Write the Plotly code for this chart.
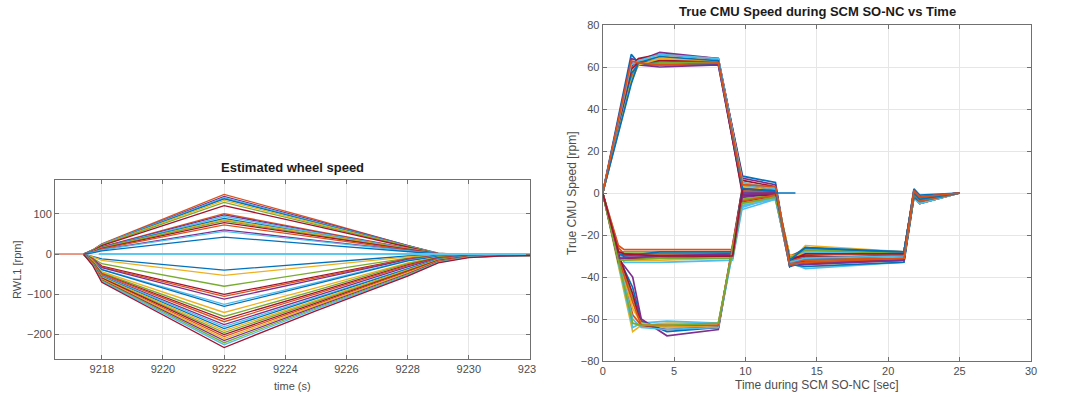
import plotly.graph_objects as go

W, H = 1073, 397
COLORS = ["#0072BD", "#D95319", "#EDB120", "#7E2F8E", "#77AC30", "#4DBEEE", "#A2142F"]

# ---------------- Left chart: Estimated wheel speed ----------------
T_LEFT = [9217.4, 9217.7, 9218.0, 9222.0, 9225.0, 9228.0, 9229.0, 9230.0, 9231.0, 9232.0]
LEFT_POS = [
    [0, 10, 25, 148, 85, 21, 2, -2, -3, -2],
    [0, 10, 24, 143, 82, 20, 1, -1, -2, -3],
    [0, 9, 24, 140, 80, 20, 2, -3, -2, -2],
    [0, 9, 23, 137, 78, 19, 1, -2, -4, -3],
    [0, 9, 23, 133, 76, 19, 0, -2, -3, -2],
    [0, 8, 22, 128, 73, 18, 1, -1, -2, -2],
    [0, 8, 21, 120, 69, 17, 0, -2, -3, -3],
    [0, 7, 18, 100, 57, 14, 1, -1, -2, -2],
    [0, 7, 17, 97, 55, 13, 0, -2, -1, -2],
    [0, 6, 16, 93, 53, 13, 1, -1, -3, -2],
    [0, 6, 16, 88, 50, 12, 0, -2, -2, -3],
    [0, 6, 15, 85, 49, 12, 1, -1, -2, -2],
    [0, 5, 15, 82, 47, 11, 0, -1, -1, -2],
    [0, 5, 14, 78, 45, 11, 1, -2, -2, -1],
    [0, 5, 13, 72, 41, 10, 0, -1, -2, -2],
    [0, 4, 11, 60, 34, 8, 1, -1, -1, -1],
    [0, 4, 10, 56, 32, 8, 0, -1, -2, -1],
    [0, 3, 8, 42, 24, 6, 0, -1, -1, -1],
]
LEFT_NEG = [
    [0, -6, -12, -40, -22, -5, -2, -1, -1, -1],
    [0, -7, -16, -53, -30, -7, -2, -1, -2, -1],
    [0, -10, -24, -80, -45, -10, -3, -2, -1, -2],
    [0, -12, -30, -100, -56, -12, -4, -2, -2, -1],
    [0, -13, -32, -105, -59, -13, -4, -3, -2, -2],
    [0, -14, -34, -112, -63, -14, -5, -2, -3, -2],
    [0, -15, -38, -125, -71, -16, -5, -3, -2, -2],
    [0, -16, -39, -130, -74, -17, -6, -3, -2, -3],
    [0, -17, -44, -145, -84, -22, -8, -3, -2, -2],
    [0, -19, -47, -155, -90, -24, -8, -4, -3, -2],
    [0, -20, -49, -162, -95, -27, -9, -4, -2, -3],
    [0, -20, -50, -168, -99, -29, -10, -4, -3, -2],
    [0, -21, -53, -175, -104, -32, -11, -5, -3, -2],
    [0, -22, -54, -180, -108, -35, -12, -5, -3, -3],
    [0, -22, -56, -185, -111, -37, -13, -5, -4, -3],
    [0, -23, -57, -190, -115, -39, -14, -6, -3, -3],
    [0, -23, -59, -195, -118, -41, -15, -6, -4, -3],
    [0, -24, -60, -200, -122, -43, -16, -6, -4, -3],
    [0, -25, -62, -205, -125, -45, -17, -7, -4, -3],
    [0, -25, -63, -210, -128, -47, -18, -7, -4, -4],
    [0, -26, -65, -215, -131, -49, -19, -7, -5, -4],
    [0, -26, -66, -220, -134, -51, -20, -8, -5, -4],
    [0, -27, -68, -225, -137, -53, -21, -8, -5, -4],
    [0, -28, -70, -232, -141, -55, -22, -9, -5, -4],
]
T_LEFT_ZERO = [9217.9, 9232.0]
V_LEFT_ZERO = [0, 0]
T_LEFT_START = [9216.47, 9217.4]
V_LEFT_START = [0, 0]

# ---------------- Right chart: True CMU speed ----------------
T_A = [0, 2.0, 2.5, 4.0, 8.1, 9.8, 12.1, 13.1, 14.2, 21.1, 21.8, 22.2, 25.0]
RIGHT_A = [
    [0, 66, 62, 62, 63, 8, 5, -35, -30, -29, 2, -1, 0],
    [0, 64, 63, 67, 64, 7, 4, -34, -31, -30, 1, -2, 0],
    [0, 60, 64, 66, 64, 6, 3, -33, -29, -28, 0, -3, 0],
    [0, 58, 63, 65, 63, 5, 2, -32, -28, -29, 0, -3, 0],
    [0, 56, 62, 64, 62, 4, 1, -31, -27, -28, -1, -4, 0],
    [0, 55, 62, 63, 62, 3, 0, -30, -32, -31, -1, -4, 0],
    [0, 54, 61, 62, 62, 2, 0, -33, -33, -32, -2, -5, 0],
    [0, 57, 61, 61, 61, 1, 0, -34, -35, -33, -2, -4, 0],
    [0, 62, 61, 60, 61, 0, 0, -32, -34, -32, -1, -3, 0],
    [0, 59, 62, 63, 63, -1, -1, -31, -30, -30, 0, -2, 0],
    [0, 53, 61, 64, 63, 3, 1, -30, -29, -31, 0, -3, 0],
    [0, 61, 63, 66, 64, 5, 2, -33, -31, -30, 1, -2, 0],
    [0, 52, 62, 65, 63, 2, 1, -32, -26, -28, 0, -3, 0],
    [0, 63, 62, 61, 62, 4, 3, -34, -33, -31, 1, -2, 0],
]
T_B = [0, 1.1, 1.5, 4.0, 9.1, 9.8, 12.1, 13.1, 14.2, 21.1, 21.8, 22.2, 25.0]
RIGHT_B = [
    [0, -25, -27, -27, -27, 4, 2, -34, -28, -28, 1, -2, 0],
    [0, -28, -28, -28, -28, 2, 1, -33, -29, -29, 0, -3, 0],
    [0, -30, -29, -29, -29, 0, 0, -32, -30, -30, 0, -3, 0],
    [0, -32, -30, -30, -30, -2, -1, -31, -31, -31, -1, -4, 0],
    [0, -33, -31, -31, -30, -4, -2, -35, -33, -32, -2, -5, 0],
    [0, -31, -32, -32, -31, -5, -2, -34, -35, -33, -1, -4, 0],
    [0, -27, -33, -33, -32, -6, -3, -33, -36, -33, -2, -5, 0],
    [0, -26, -29, -29, -29, 1, 0, -30, -27, -28, 0, -2, 0],
    [0, -32, -32, -31, -31, -3, -1, -32, -32, -31, -1, -3, 0],
    [0, -29, -30, -28, -28, 3, 1, -31, -26, -29, 1, -2, 0],
    [0, -31, -31, -30, -29, -1, 0, -33, -31, -30, 0, -3, 0],
    [0, -28, -29, -30, -30, 2, 1, -32, -29, -29, 1, -2, 0],
]
T_C = [0, 1.2, 2.1, 2.7, 4.5, 8.1, 9.7, 12.1, 13.1, 14.2, 21.1, 21.8, 22.2, 25.0]
RIGHT_C = [
    [0, -37, -66, -63, -62, -62, -6, -2, -33, -25, -28, 0, -3, 0],
    [0, -36, -64, -62, -61, -62, -8, -3, -34, -26, -28, 1, -2, 0],
    [0, -33, -58, -63, -63, -63, -5, -2, -32, -27, -29, 0, -3, 0],
    [0, -32, -50, -62, -64, -64, -4, -1, -33, -30, -30, 0, -4, 0],
    [0, -32, -45, -61, -66, -64, -3, -1, -35, -31, -31, -1, -4, 0],
    [0, -32, -40, -60, -68, -65, -2, 0, -34, -34, -32, -1, -5, 0],
    [0, -31, -48, -63, -65, -64, -1, 0, -31, -33, -32, 0, -3, 0],
    [0, -34, -55, -62, -64, -63, -3, -1, -30, -29, -30, 0, -3, 0],
    [0, -35, -60, -64, -65, -64, -7, -2, -32, -28, -29, 1, -2, 0],
    [0, -33, -52, -63, -63, -63, -4, -1, -33, -32, -31, 0, -4, 0],
    [0, -36, -62, -63, -63, -62, -5, -2, -31, -27, -29, 0, -3, 0],
]
T_RIGHT_ZERO = [12.1, 13.5]
V_RIGHT_ZERO = [0, 0]

fig = go.Figure()

left_series = []
n = max(len(LEFT_POS), len(LEFT_NEG))
for i in range(n):
    if i < len(LEFT_NEG):
        left_series.append(LEFT_NEG[i])
    if i < len(LEFT_POS):
        left_series.append(LEFT_POS[i])
for i, vals in enumerate(left_series):
    fig.add_trace(go.Scatter(x=T_LEFT, y=vals, mode="lines", xaxis="x", yaxis="y",
                             line=dict(color=COLORS[i % 7], width=1.3), showlegend=False,
                             hoverinfo="skip"))
fig.add_trace(go.Scatter(x=T_LEFT_ZERO, y=V_LEFT_ZERO, mode="lines", xaxis="x", yaxis="y",
                         line=dict(color="#5CC8F0", width=2.2), showlegend=False))
fig.add_trace(go.Scatter(x=T_LEFT_START, y=V_LEFT_START, mode="lines", xaxis="x", yaxis="y",
                         line=dict(color="#E8826A", width=1.6), showlegend=False))

k = 0
groups = [(T_A, RIGHT_A), (T_B, RIGHT_B), (T_C, RIGHT_C)]
maxlen = max(len(g[1]) for g in groups)
for i in range(maxlen):
    for t, rows in groups:
        if i < len(rows):
            fig.add_trace(go.Scatter(x=t, y=rows[i], mode="lines", xaxis="x2", yaxis="y2",
                                     line=dict(color=COLORS[k % 7], width=1.7), showlegend=False,
                                     hoverinfo="skip"))
            k += 1
fig.add_trace(go.Scatter(x=T_RIGHT_ZERO, y=V_RIGHT_ZERO, mode="lines", xaxis="x2", yaxis="y2",
                         line=dict(color="#0072BD", width=1.5), showlegend=False))

axis_common = dict(showline=True, linecolor="#707070", linewidth=1, mirror="ticks",
                   ticks="inside", ticklen=4, tickcolor="#707070", showgrid=True,
                   gridcolor="#e6e6e6", zeroline=False, automargin=False,
                   tickfont=dict(family="Liberation Sans, Arial", size=11, color="#4d4d4d"))

fig.update_layout(
    width=W, height=H, margin=dict(l=0, r=0, t=0, b=0, pad=0, autoexpand=False),
    paper_bgcolor="white", plot_bgcolor="white",
    xaxis=dict(domain=[55 / W, 530 / W], range=[9216.47, 9232.0],
               tickvals=[9218, 9220, 9222, 9224, 9226, 9228, 9230, 9232],
               anchor="y", **axis_common),
    yaxis=dict(domain=[1 - 359 / H, 1 - 180 / H], range=[-260.5, 183.6], tickvals=[-200, -100, 0, 100],
               anchor="x", **axis_common),
    xaxis2=dict(domain=[602.7 / W, 1031 / W], range=[0, 30], dtick=5, anchor="y2", **axis_common),
    yaxis2=dict(domain=[1 - 361 / H, 1 - 25 / H], range=[-80, 80], dtick=20, anchor="x2", **axis_common),
    shapes=[dict(type="rect", xref="paper", yref="paper", x0=536 / W, x1=560 / W,
                 y0=0, y1=1 - 362 / H, fillcolor="white", line=dict(width=0), layer="above")],
)

tfont = dict(family="Liberation Sans, Arial", size=13, color="#1a1a1a")
lfont = dict(family="Liberation Sans, Arial", size=11, color="#4d4d4d")
lfont2 = dict(family="Liberation Sans, Arial", size=12, color="#4d4d4d")
ann = [
    dict(text="<b>Estimated wheel speed</b>", x=292.5 / W, y=1 - 167 / H, font=tfont),
    dict(text="<b>True CMU Speed during SCM SO-NC vs Time</b>", x=817 / W, y=1 - 12 / H, font=tfont),
    dict(text="time (s)", x=292.5 / W, y=1 - 386 / H, font=lfont),
    dict(text="Time during SCM SO-NC [sec]", x=817 / W, y=1 - 385 / H, font=lfont2),
    dict(text="RWL1 [rpm]", x=17 / W, y=1 - 270 / H, textangle=-90, font=lfont),
    dict(text="True CMU Speed [rpm]", x=572 / W, y=1 - 193 / H, textangle=-90, font=lfont2),
]
for a in ann:
    a.update(xref="paper", yref="paper", showarrow=False, xanchor="center", yanchor="middle")
fig.update_layout(annotations=ann)

fig.write_html("out.html", config={"displayModeBar": False},
               post_script="document.body.style.margin='0';")
